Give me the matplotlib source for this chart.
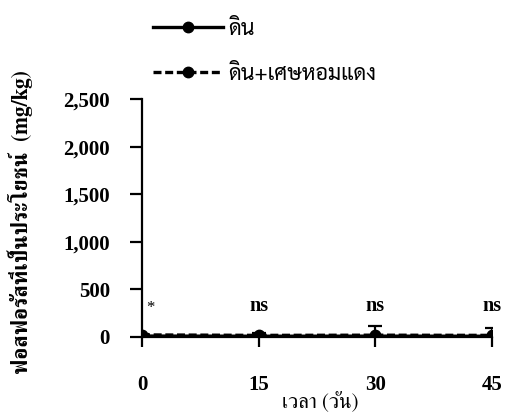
import matplotlib
matplotlib.use("Agg")
import matplotlib.pyplot as plt
from matplotlib.lines import Line2D

# Available phosphorus over time, two soil treatments
days = [0, 15, 30, 45]
soil = [10, 8, 9, 8]
soil_err = [3, 4, 4, 4]
soil_shallot = [22, 17, 19, 17]
soil_shallot_err = [5, 20, 95, 75]
series_labels = ["ดิน", "ดิน+เศษหอมแดง"]
sig_labels = ["*", "ns", "ns", "ns"]
y_ticks = [0, 500, 1000, 1500, 2000, 2500]
y_tick_labels = ["0", "500", "1,000", "1,500", "2,000", "2,500"]
x_label = "เวลา (วัน)"
y_label = "ฟอสฟอรัสที่เป็นประโยชน์  (mg/kg)"

FAM = ["Liberation Serif", "FreeSerif"]
THAI = ["FreeSerif", "Liberation Serif"]
THAI_SANS = ["Sarabun", "FreeSerif"]
plt.rcParams["font.family"] = FAM

fig = plt.figure(figsize=(5.05, 4.17), dpi=100)
ax = fig.add_axes([142 / 505, 80 / 417, 350 / 505, 238 / 417])

ax.errorbar(days, soil_shallot, yerr=soil_shallot_err, color="black",
            lw=2.4, dashes=(2.4, 1.1), marker="o", ms=7.5, capsize=5,
            capthick=1.6, elinewidth=1.6, zorder=3)
ax.errorbar(days, soil, yerr=soil_err, color="black", lw=2.4,
            marker="o", ms=7.5, capsize=5, capthick=1.6, elinewidth=1.6,
            zorder=2)

ax.set_xlim(0, 45)
ax.set_ylim(0, 2500)
ax.set_xticks(days)
ax.set_xticklabels([str(d) for d in days], fontsize=15, fontweight="bold")
ax.set_yticks(y_ticks)
ax.set_yticklabels(y_tick_labels, fontsize=15, fontweight="bold")

for side in ("top", "right"):
    ax.spines[side].set_visible(False)
for side in ("left", "bottom"):
    ax.spines[side].set_linewidth(1.6)
ax.tick_params(axis="y", direction="out", length=9, width=1.6, pad=14)
ax.tick_params(axis="x", direction="out", length=7.5, width=1.6, pad=20)

# significance marks above each sampling day
for d, s in zip(days, sig_labels):
    if s == "*":
        ax.annotate(s, xy=(d, 0), xytext=(6, 21), textcoords="offset points",
                    ha="center", va="center", fontsize=12)
    else:
        ax.annotate(s, xy=(d, 0), xytext=(0, 22), textcoords="offset points",
                    ha="center", va="center", fontsize=14.5, fontweight="bold")

fig.text(320 / 505, 1 - 403 / 417, x_label, ha="center", va="center",
         fontsize=15, family=THAI)
fig.text(20 / 505, 1 - 222 / 417, y_label, ha="center", va="center",
         rotation=90, fontsize=15.5, fontweight="bold", family=THAI)

handles = [
    Line2D([], [], color="black", lw=2.4, marker="o", ms=7.5),
    Line2D([], [], color="black", lw=2.4, dashes=(2.4, 1.1), marker="o", ms=7.5),
]
fig.legend(handles, series_labels, loc="upper left",
           bbox_to_anchor=(153 / 505, 1 - 19 / 417), frameon=False,
           borderpad=0, borderaxespad=0, handlelength=3.25, handletextpad=0.25,
           labelspacing=1.1, prop={"family": THAI_SANS, "size": 15.5})

fig.savefig("out.png", dpi=100)
